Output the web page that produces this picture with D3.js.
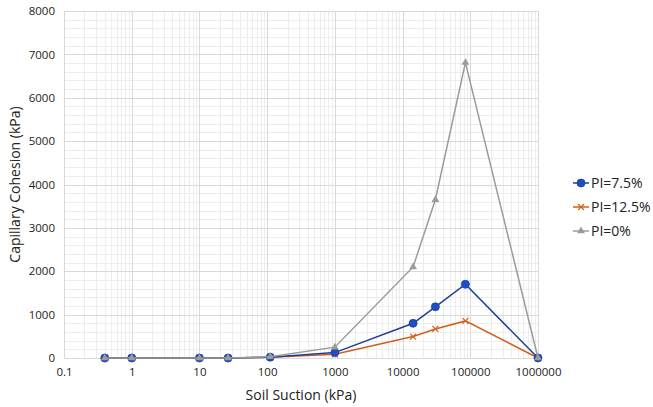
<!DOCTYPE html>
<html>
<head>
<meta charset="utf-8">
<script src="https://cdn.jsdelivr.net/npm/d3@7"></script>
<style>
    body { margin: 0; background: #fff; }
    text { font-family: "Open Sans", "Noto Sans", sans-serif; fill: #222; }
</style>
</head>
<body>
<div id="chart"></div>
<script>
// soil suction (kPa) values shared by all series
var suction = [0.4, 1, 10, 26.5, 111, 1000, 14300, 30500, 84700, 1000000];

var seriesNames = ["PI=7.5%", "PI=12.5%", "PI=0%"];
var pi75 = [0, 0, 0, 0, 20, 125, 800, 1180, 1700, 0];
var pi125 = [0, 0, 0, 0, 15, 85, 494, 670, 855, 0];
var pi0 = [0, 0, 0, 0, 30, 250, 2100, 3650, 6810, 0];

var xTicks = [0.1, 1, 10, 100, 1000, 10000, 100000, 1000000];
var yTicks = [0, 1000, 2000, 3000, 4000, 5000, 6000, 7000, 8000];

var width = 653, height = 407;
var margin = { left: 64, right: 115, top: 11, bottom: 49 };

var svg = d3.select("#chart").append("svg")
    .attr("width", width)
    .attr("height", height);

var x = d3.scaleLog().domain([0.1, 1000000]).range([margin.left, width - margin.right]);
var y = d3.scaleLinear().domain([0, 8000]).range([height - margin.bottom, margin.top]);

// minor grid
var minorX = [];
for (var e = -1; e < 6; e++) {
    for (var k = 2; k <= 9; k++) minorX.push(k * Math.pow(10, e));
}
var minorY = d3.range(0, 8001, 200).filter(function (d) { return d % 1000 !== 0; });

var grid = svg.append("g");
grid.selectAll(".mx").data(minorX).enter().append("line")
    .attr("x1", function (d) { return Math.round(x(d)) + 0.5; })
    .attr("x2", function (d) { return Math.round(x(d)) + 0.5; })
    .attr("y1", y(0)).attr("y2", y(8000))
    .attr("stroke", "#ededed");
grid.selectAll(".my").data(minorY).enter().append("line")
    .attr("y1", function (d) { return Math.round(y(d)) + 0.5; })
    .attr("y2", function (d) { return Math.round(y(d)) + 0.5; })
    .attr("x1", x(0.1)).attr("x2", x(1000000))
    .attr("stroke", "#ededed");
grid.selectAll(".Mx").data(xTicks).enter().append("line")
    .attr("x1", function (d) { return Math.round(x(d)) + 0.5; })
    .attr("x2", function (d) { return Math.round(x(d)) + 0.5; })
    .attr("y1", y(0)).attr("y2", y(8000))
    .attr("stroke", "#d9d9d9");
grid.selectAll(".My").data(yTicks).enter().append("line")
    .attr("y1", function (d) { return Math.round(y(d)) + 0.5; })
    .attr("y2", function (d) { return Math.round(y(d)) + 0.5; })
    .attr("x1", x(0.1)).attr("x2", x(1000000))
    .attr("stroke", "#d9d9d9");

// axes
var xAxis = d3.axisBottom(x).tickValues(xTicks).tickSize(0).tickPadding(10)
    .tickFormat(function (d) { return d < 1 ? String(d) : d3.format("d")(d); });
var gx = svg.append("g")
    .attr("transform", "translate(0," + y(0) + ")")
    .call(xAxis);
gx.select(".domain").attr("stroke", "#d9d9d9");
gx.selectAll("text").style("font-size", "11.5px").attr("fill", "#222");

var yAxis = d3.axisLeft(y).tickValues(yTicks).tickSize(0).tickPadding(9)
    .tickFormat(d3.format("d"));
var gy = svg.append("g")
    .attr("transform", "translate(" + x(0.1) + ",0)")
    .call(yAxis);
gy.select(".domain").attr("stroke", "#d9d9d9");
gy.selectAll("text").style("font-size", "11.5px").attr("fill", "#222");

svg.append("text")
    .attr("x", (x(0.1) + x(1000000)) / 2)
    .attr("y", 400)
    .attr("text-anchor", "middle")
    .style("font-size", "14px")
    .text("Soil Suction (kPa)");

svg.append("text")
    .attr("transform", "translate(20," + (y(4000)) + ") rotate(-90)")
    .attr("text-anchor", "middle")
    .style("font-size", "14px")
    .text("Capillary Cohesion (kPa)");

// series
var series = [
    { name: seriesNames[1], values: pi125, line: "#d2601a", marker: "cross" },
    { name: seriesNames[0], values: pi75, line: "#203e96", fill: "#1c4fc4", marker: "circle" },
    { name: seriesNames[2], values: pi0, line: "#9b9b9b", fill: "#9b9b9b", marker: "triangle" }
];

var line = d3.line()
    .x(function (d) { return x(d[0]); })
    .y(function (d) { return y(d[1]); });

function drawMarker(g, s, cx, cy) {
    if (s.marker === "circle") {
        g.append("circle").attr("cx", cx).attr("cy", cy).attr("r", 4)
            .attr("fill", s.fill).attr("stroke", s.line).attr("stroke-width", 0.8);
    } else if (s.marker === "triangle") {
        g.append("path")
            .attr("d", d3.symbol().type(d3.symbolTriangle).size(26)())
            .attr("transform", "translate(" + cx + "," + cy + ")")
            .attr("fill", s.fill);
    } else {
        g.append("path")
            .attr("d", "M-3,-3L3,3M-3,3L3,-3")
            .attr("transform", "translate(" + cx + "," + cy + ")")
            .attr("stroke", s.line).attr("stroke-width", 1.2).attr("fill", "none");
    }
}

series.forEach(function (s) {
    var pts = suction.map(function (v, i) { return [v, s.values[i]]; });
    var g = svg.append("g");
    g.append("path").datum(pts)
        .attr("d", line)
        .attr("fill", "none")
        .attr("stroke", s.line)
        .attr("stroke-width", 1.5);
    pts.forEach(function (p) { drawMarker(g, s, x(p[0]), y(p[1])); });
});

// legend
var legendOrder = [series[1], series[0], series[2]];
var lg = svg.append("g").attr("transform", "translate(573,183)");
legendOrder.forEach(function (s, i) {
    var row = lg.append("g").attr("transform", "translate(0," + i * 24 + ")");
    row.append("line").attr("x1", 0).attr("x2", 16).attr("y1", 0).attr("y2", 0)
        .attr("stroke", s.line).attr("stroke-width", 1.5);
    drawMarker(row, s, 8, 0);
    row.append("text").attr("x", 18).attr("y", 0).attr("dy", "0.35em")
        .style("font-size", "14px").text(s.name);
});
</script>
</body>
</html>
